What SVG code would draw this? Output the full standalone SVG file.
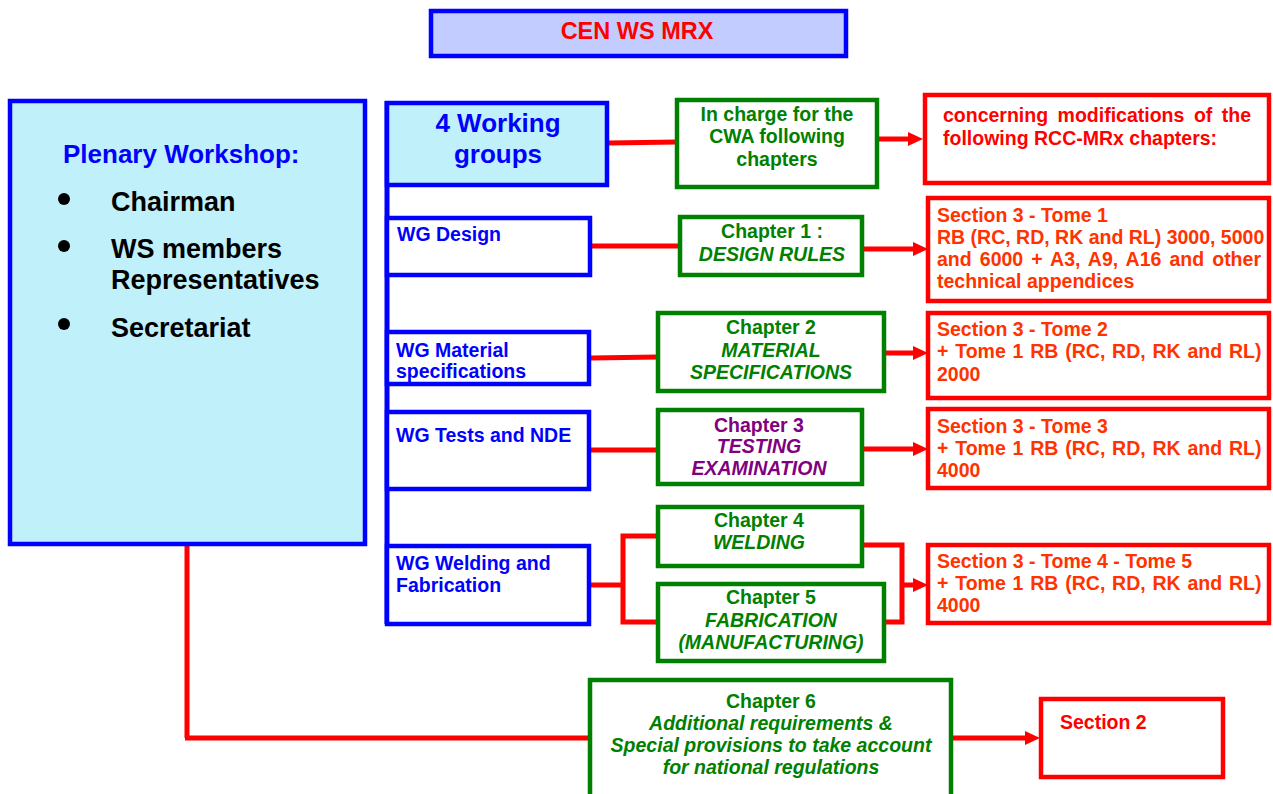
<svg xmlns="http://www.w3.org/2000/svg" width="1273" height="794" viewBox="0 0 1273 794">
<style>
.t{font-family:"Liberation Sans",Arial,sans-serif;font-weight:bold;font-size:19.5px}
.c{text-anchor:middle}
.it{font-style:italic}
.blue{fill:#0000FF}.green{fill:#008000}.red{fill:#FF0000}.orange{fill:#FF3300}.purple{fill:#800080}.black{fill:#000}
.bbox{fill:#fff;stroke:#0000FF;stroke-width:4.5}
.cbox{fill:#C0F0FA;stroke:#0000FF;stroke-width:4.5}
.gbox{fill:#fff;stroke:#008000;stroke-width:4.5}
.rbox{fill:#fff;stroke:#FF0000;stroke-width:4.5}
.conn{stroke:#FF0000;stroke-width:5;fill:none}
</style>
<defs>
<marker id="ah" markerUnits="userSpaceOnUse" markerWidth="16" markerHeight="15" refX="3" refY="7" orient="auto">
<path d="M0,0 L15,7 L0,14 z" fill="#FF0000"/>
</marker>
</defs>

<g id="connectors">
<line class="conn" x1="187" y1="544" x2="187" y2="738"/>
<line class="conn" x1="185" y1="738" x2="590" y2="738"/>
<line class="conn" x1="609" y1="143" x2="677" y2="142"/>
<line class="conn" x1="879" y1="139" x2="911" y2="139" marker-end="url(#ah)"/>
<line class="conn" x1="592" y1="246" x2="680" y2="246"/>
<line class="conn" x1="864" y1="249" x2="916" y2="249" marker-end="url(#ah)"/>
<line class="conn" x1="591" y1="358" x2="658" y2="357"/>
<line class="conn" x1="886" y1="353" x2="916" y2="353" marker-end="url(#ah)"/>
<line class="conn" x1="591" y1="450" x2="658" y2="450"/>
<line class="conn" x1="864" y1="449" x2="916" y2="449" marker-end="url(#ah)"/>
<line class="conn" x1="591" y1="585" x2="623" y2="585"/>
<polyline class="conn" points="658,536 623,536 623,622 658,622"/>
<polyline class="conn" points="864,545 902,545 902,622 886,622"/>
<line class="conn" x1="902" y1="585" x2="916" y2="585" marker-end="url(#ah)"/>
<line class="conn" x1="953" y1="738" x2="1028" y2="738" marker-end="url(#ah)"/>
<line stroke="#0000FF" stroke-width="5" x1="387" y1="101" x2="387" y2="624"/>
</g>

<g id="title">
<rect x="431" y="11" width="415" height="45" fill="#C2CCFF" stroke="#0000FF" stroke-width="4.5"/>
<text class="t c red" x="637" y="39" style="font-size:23.5px">CEN WS MRX</text>
</g>

<g id="plenary">
<rect class="cbox" x="10" y="101" width="355" height="443"/>
<text class="t blue" x="63" y="163" style="font-size:26px">Plenary Workshop:</text>
<circle cx="64" cy="199" r="6" fill="#000"/>
<circle cx="64" cy="246" r="6" fill="#000"/>
<circle cx="64" cy="324" r="6" fill="#000"/>
<text class="t black" style="font-size:27px"><tspan x="111" y="211">Chairman</tspan><tspan x="111" y="258">WS members</tspan><tspan x="111" y="289">Representatives</tspan><tspan x="111" y="337">Secretariat</tspan></text>
</g>

<g id="working-groups">
<rect class="cbox" x="387" y="103" width="220" height="82"/>
<text class="t c blue" style="font-size:26px"><tspan x="498" y="132">4 Working</tspan><tspan x="498" y="163">groups</tspan></text>
</g>

<g id="in-charge">
<rect class="gbox" x="677" y="100" width="200" height="87"/>
<text class="t c green"><tspan x="777" y="121">In charge for the</tspan><tspan x="777" y="143">CWA following</tspan><tspan x="777" y="166">chapters</tspan></text>
</g>

<g id="concerning">
<rect class="rbox" x="925" y="95" width="344" height="88"/>
<text class="t red"><tspan x="943" y="122" word-spacing="4.1">concerning modifications of the</tspan><tspan x="943" y="145">following RCC-MRx chapters:</tspan></text>
</g>

<g id="wg-design">
<rect class="bbox" x="387" y="218" width="203" height="57"/>
<text class="t blue" x="397" y="241">WG Design</text>
</g>

<g id="chapter1">
<rect class="gbox" x="680" y="217" width="182" height="58"/>
<text class="t c green"><tspan x="772" y="238">Chapter 1 :</tspan><tspan class="it" x="772" y="261">DESIGN RULES</tspan></text>
</g>

<g id="section3-tome1">
<rect class="rbox" x="928" y="198" width="341" height="103"/>
<text class="t orange"><tspan x="937" y="222">Section 3 - Tome 1</tspan><tspan x="937" y="244">RB (RC, RD, RK and RL) 3000, 5000</tspan><tspan x="937" y="266" word-spacing="2.7">and 6000 + A3, A9, A16 and other</tspan><tspan x="937" y="288">technical appendices</tspan></text>
</g>

<g id="wg-material">
<rect x="387" y="332" width="202" height="52" fill="#fff"/>
<text class="t blue"><tspan x="396" y="357">WG Material</tspan><tspan x="396" y="378">specifications</tspan></text>
<rect x="387" y="332" width="202" height="52" fill="none" stroke="#0000FF" stroke-width="4.5"/>
</g>

<g id="chapter2">
<rect class="gbox" x="658" y="313" width="226" height="78"/>
<text class="t c green"><tspan x="771" y="334">Chapter 2</tspan><tspan class="it" x="771" y="357">MATERIAL</tspan><tspan class="it" x="771" y="379">SPECIFICATIONS</tspan></text>
</g>

<g id="section3-tome2">
<rect class="rbox" x="928" y="313" width="341" height="85"/>
<text class="t orange"><tspan x="937" y="336">Section 3 - Tome 2</tspan><tspan x="937" y="358" word-spacing="1.4">+ Tome 1 RB (RC, RD, RK and RL)</tspan><tspan x="937" y="381">2000</tspan></text>
</g>

<g id="wg-tests">
<rect class="bbox" x="387" y="412" width="202" height="77"/>
<text class="t blue" x="396" y="442">WG Tests and NDE</text>
</g>

<g id="chapter3">
<rect class="gbox" x="658" y="410" width="204" height="74"/>
<text class="t c purple"><tspan x="759" y="432">Chapter 3</tspan><tspan class="it" x="759" y="453">TESTING</tspan><tspan class="it" x="759" y="475">EXAMINATION</tspan></text>
</g>

<g id="section3-tome3">
<rect class="rbox" x="928" y="409" width="341" height="79"/>
<text class="t orange"><tspan x="937" y="433">Section 3 - Tome 3</tspan><tspan x="937" y="455" word-spacing="1.4">+ Tome 1 RB (RC, RD, RK and RL)</tspan><tspan x="937" y="477">4000</tspan></text>
</g>

<g id="wg-welding">
<rect class="bbox" x="387" y="546" width="202" height="78"/>
<text class="t blue"><tspan x="396" y="570">WG Welding and</tspan><tspan x="396" y="592">Fabrication</tspan></text>
</g>

<g id="chapter4">
<rect class="gbox" x="658" y="507" width="204" height="59"/>
<text class="t c green"><tspan x="759" y="527">Chapter 4</tspan><tspan class="it" x="759" y="549">WELDING</tspan></text>
</g>

<g id="chapter5">
<rect class="gbox" x="658" y="584" width="226" height="77"/>
<text class="t c green"><tspan x="771" y="604">Chapter 5</tspan><tspan class="it" x="771" y="627">FABRICATION</tspan><tspan class="it" x="771" y="649">(MANUFACTURING)</tspan></text>
</g>

<g id="section3-tome4-5">
<rect class="rbox" x="928" y="545" width="341" height="78"/>
<text class="t orange"><tspan x="937" y="568">Section 3 - Tome 4 - Tome 5</tspan><tspan x="937" y="590" word-spacing="1.4">+ Tome 1 RB (RC, RD, RK and RL)</tspan><tspan x="937" y="612">4000</tspan></text>
</g>

<g id="chapter6">
<rect class="gbox" x="590" y="680" width="361" height="130"/>
<text class="t c green"><tspan x="771" y="708">Chapter 6</tspan><tspan class="it" x="771" y="730">Additional requirements &amp;</tspan><tspan class="it" x="771" y="752">Special provisions to take account</tspan><tspan class="it" x="771" y="774">for national regulations</tspan></text>
</g>

<g id="section2">
<rect class="rbox" x="1041" y="699" width="182" height="78"/>
<text class="t red" x="1060" y="729">Section 2</text>
</g>
</svg>
